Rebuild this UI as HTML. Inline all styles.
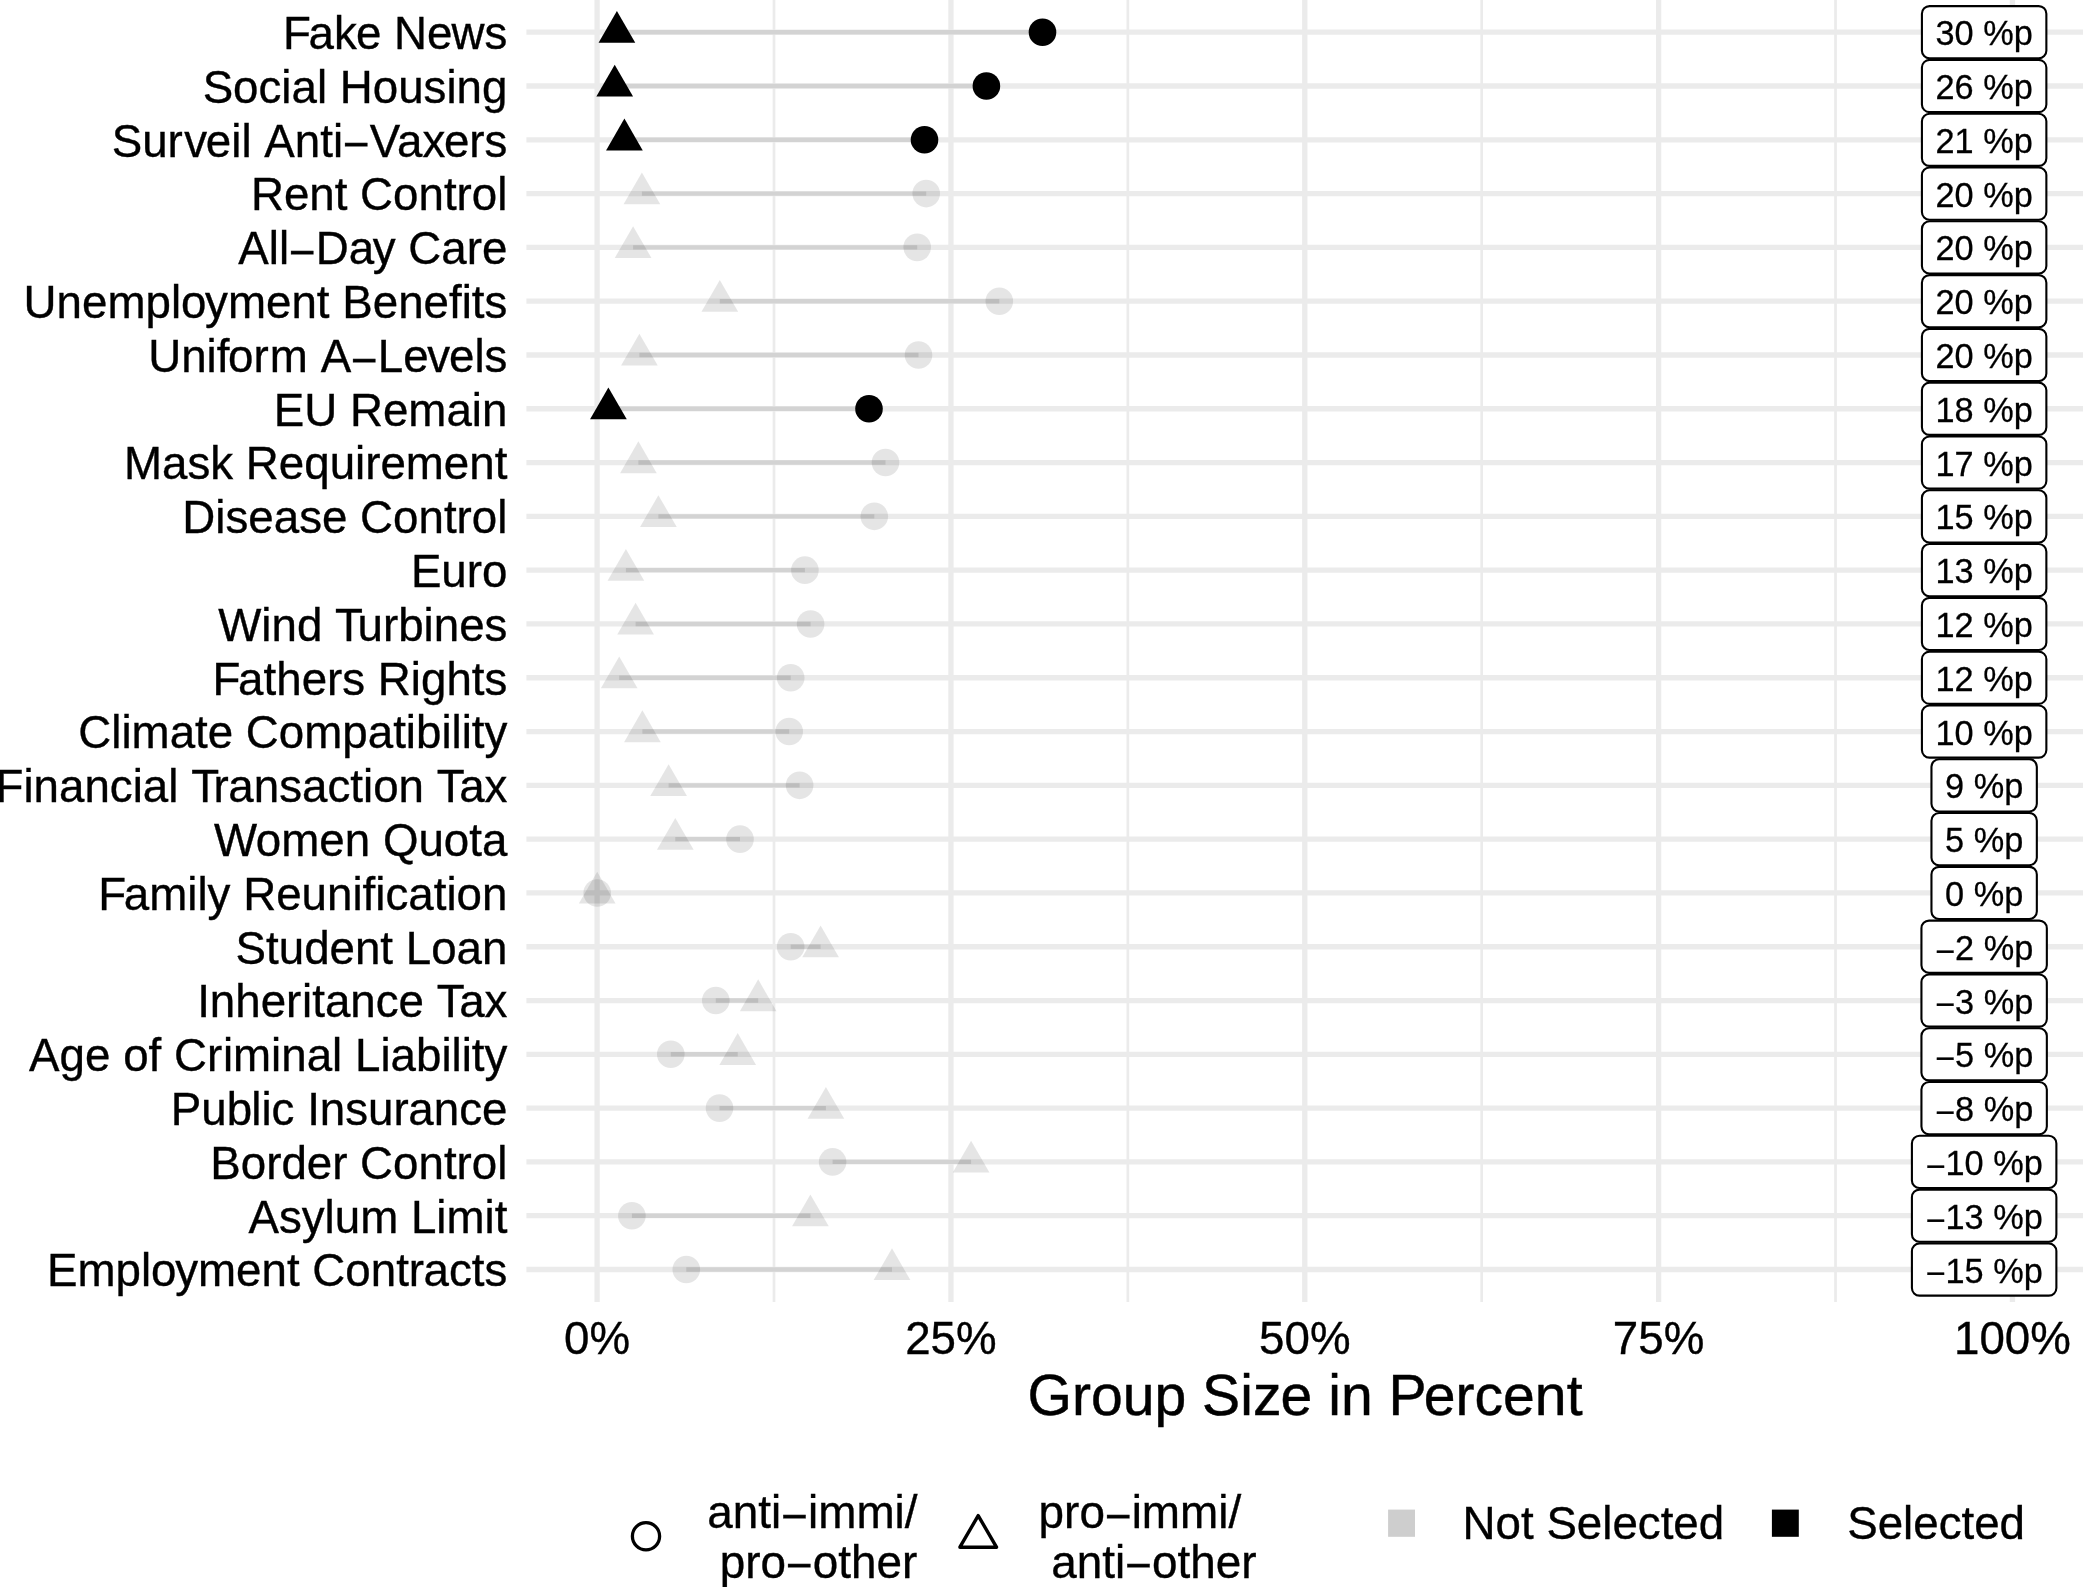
<!DOCTYPE html>
<html lang="en"><head><meta charset="utf-8"><title>Group Size in Percent</title>
<style>html,body{margin:0;padding:0;background:#fff}svg{display:block;will-change:transform}text{font-family:"Liberation Sans",sans-serif;fill:#000;font-kerning:none;stroke:#000;stroke-width:.008em}.ax{font-size:45.70px}.ti{font-size:57.10px}.lb{font-size:34.30px}.lg{font-size:45.85px}.g line{stroke:#ebebeb}.s line{stroke:#d3d3d3;stroke-width:4.40}.n{fill:#000;fill-opacity:.1}.k{fill:#000}.bx rect{fill:#fff;stroke:#000;stroke-width:2.1}</style></head><body>
<svg width="2083" height="1587" viewBox="0 0 2083 1587">
<rect width="2083" height="1587" fill="#fff"/>
<g class="g">
<line x1="774.02" x2="774.02" y1="0.0" y2="1302.0" stroke-width="2.7"/>
<line x1="1127.86" x2="1127.86" y1="0.0" y2="1302.0" stroke-width="2.7"/>
<line x1="1481.69" x2="1481.69" y1="0.0" y2="1302.0" stroke-width="2.7"/>
<line x1="1835.53" x2="1835.53" y1="0.0" y2="1302.0" stroke-width="2.7"/>
<line x1="597.10" x2="597.10" y1="0.0" y2="1302.0" stroke-width="5.3"/>
<line x1="950.94" x2="950.94" y1="0.0" y2="1302.0" stroke-width="5.3"/>
<line x1="1304.78" x2="1304.78" y1="0.0" y2="1302.0" stroke-width="5.3"/>
<line x1="1658.61" x2="1658.61" y1="0.0" y2="1302.0" stroke-width="5.3"/>
<line x1="2012.45" x2="2012.45" y1="0.0" y2="1302.0" stroke-width="5.3"/>
<line x1="526.4" x2="2083.0" y1="32.20" y2="32.20" stroke-width="5.3"/>
<line x1="526.4" x2="2083.0" y1="86.00" y2="86.00" stroke-width="5.3"/>
<line x1="526.4" x2="2083.0" y1="139.79" y2="139.79" stroke-width="5.3"/>
<line x1="526.4" x2="2083.0" y1="193.59" y2="193.59" stroke-width="5.3"/>
<line x1="526.4" x2="2083.0" y1="247.38" y2="247.38" stroke-width="5.3"/>
<line x1="526.4" x2="2083.0" y1="301.18" y2="301.18" stroke-width="5.3"/>
<line x1="526.4" x2="2083.0" y1="354.98" y2="354.98" stroke-width="5.3"/>
<line x1="526.4" x2="2083.0" y1="408.77" y2="408.77" stroke-width="5.3"/>
<line x1="526.4" x2="2083.0" y1="462.57" y2="462.57" stroke-width="5.3"/>
<line x1="526.4" x2="2083.0" y1="516.36" y2="516.36" stroke-width="5.3"/>
<line x1="526.4" x2="2083.0" y1="570.16" y2="570.16" stroke-width="5.3"/>
<line x1="526.4" x2="2083.0" y1="623.96" y2="623.96" stroke-width="5.3"/>
<line x1="526.4" x2="2083.0" y1="677.75" y2="677.75" stroke-width="5.3"/>
<line x1="526.4" x2="2083.0" y1="731.55" y2="731.55" stroke-width="5.3"/>
<line x1="526.4" x2="2083.0" y1="785.34" y2="785.34" stroke-width="5.3"/>
<line x1="526.4" x2="2083.0" y1="839.14" y2="839.14" stroke-width="5.3"/>
<line x1="526.4" x2="2083.0" y1="892.94" y2="892.94" stroke-width="5.3"/>
<line x1="526.4" x2="2083.0" y1="946.73" y2="946.73" stroke-width="5.3"/>
<line x1="526.4" x2="2083.0" y1="1000.53" y2="1000.53" stroke-width="5.3"/>
<line x1="526.4" x2="2083.0" y1="1054.32" y2="1054.32" stroke-width="5.3"/>
<line x1="526.4" x2="2083.0" y1="1108.12" y2="1108.12" stroke-width="5.3"/>
<line x1="526.4" x2="2083.0" y1="1161.92" y2="1161.92" stroke-width="5.3"/>
<line x1="526.4" x2="2083.0" y1="1215.71" y2="1215.71" stroke-width="5.3"/>
<line x1="526.4" x2="2083.0" y1="1269.51" y2="1269.51" stroke-width="5.3"/>
</g>
<g class="s">
<line x1="616.9" x2="1042.5" y1="32.20" y2="32.20"/>
<line x1="614.7" x2="986.4" y1="86.00" y2="86.00"/>
<line x1="624.4" x2="924.5" y1="139.79" y2="139.79"/>
<line x1="641.9" x2="926.2" y1="193.59" y2="193.59"/>
<line x1="633.1" x2="917.2" y1="247.38" y2="247.38"/>
<line x1="719.8" x2="999.3" y1="301.18" y2="301.18"/>
<line x1="639.4" x2="918.5" y1="354.98" y2="354.98"/>
<line x1="608.4" x2="869.0" y1="408.77" y2="408.77"/>
<line x1="638.4" x2="885.5" y1="462.57" y2="462.57"/>
<line x1="658.4" x2="874.3" y1="516.36" y2="516.36"/>
<line x1="625.9" x2="804.9" y1="570.16" y2="570.16"/>
<line x1="635.6" x2="810.6" y1="623.96" y2="623.96"/>
<line x1="619.2" x2="790.7" y1="677.75" y2="677.75"/>
<line x1="642.4" x2="789.2" y1="731.55" y2="731.55"/>
<line x1="668.6" x2="799.6" y1="785.34" y2="785.34"/>
<line x1="675.3" x2="740.0" y1="839.14" y2="839.14"/>
<line x1="820.6" x2="790.7" y1="946.73" y2="946.73"/>
<line x1="758.2" x2="715.8" y1="1000.53" y2="1000.53"/>
<line x1="737.7" x2="670.8" y1="1054.32" y2="1054.32"/>
<line x1="825.9" x2="719.5" y1="1108.12" y2="1108.12"/>
<line x1="971.1" x2="832.6" y1="1161.92" y2="1161.92"/>
<line x1="810.4" x2="631.9" y1="1215.71" y2="1215.71"/>
<line x1="892.0" x2="686.3" y1="1269.51" y2="1269.51"/>
</g>
<g>
<circle class="k" cx="1042.5" cy="32.20" r="13.8"/>
<path class="k" d="M616.9 11.00L635.26 42.80L598.54 42.80Z"/>
<circle class="k" cx="986.4" cy="86.00" r="13.8"/>
<path class="k" d="M614.7 64.80L633.06 96.60L596.34 96.60Z"/>
<circle class="k" cx="924.5" cy="139.79" r="13.8"/>
<path class="k" d="M624.4 118.59L642.76 150.39L606.04 150.39Z"/>
<circle class="n" cx="926.2" cy="193.59" r="13.8"/>
<path class="n" d="M641.9 172.39L660.26 204.19L623.54 204.19Z"/>
<circle class="n" cx="917.2" cy="247.38" r="13.8"/>
<path class="n" d="M633.1 226.18L651.46 257.98L614.74 257.98Z"/>
<circle class="n" cx="999.3" cy="301.18" r="13.8"/>
<path class="n" d="M719.8 279.98L738.16 311.78L701.44 311.78Z"/>
<circle class="n" cx="918.5" cy="354.98" r="13.8"/>
<path class="n" d="M639.4 333.78L657.76 365.58L621.04 365.58Z"/>
<circle class="k" cx="869.0" cy="408.77" r="13.8"/>
<path class="k" d="M608.4 387.57L626.76 419.37L590.04 419.37Z"/>
<circle class="n" cx="885.5" cy="462.57" r="13.8"/>
<path class="n" d="M638.4 441.37L656.76 473.17L620.04 473.17Z"/>
<circle class="n" cx="874.3" cy="516.36" r="13.8"/>
<path class="n" d="M658.4 495.16L676.76 526.96L640.04 526.96Z"/>
<circle class="n" cx="804.9" cy="570.16" r="13.8"/>
<path class="n" d="M625.9 548.96L644.26 580.76L607.54 580.76Z"/>
<circle class="n" cx="810.6" cy="623.96" r="13.8"/>
<path class="n" d="M635.6 602.76L653.96 634.56L617.24 634.56Z"/>
<circle class="n" cx="790.7" cy="677.75" r="13.8"/>
<path class="n" d="M619.2 656.55L637.56 688.35L600.84 688.35Z"/>
<circle class="n" cx="789.2" cy="731.55" r="13.8"/>
<path class="n" d="M642.4 710.35L660.76 742.15L624.04 742.15Z"/>
<circle class="n" cx="799.6" cy="785.34" r="13.8"/>
<path class="n" d="M668.6 764.14L686.96 795.94L650.24 795.94Z"/>
<circle class="n" cx="740.0" cy="839.14" r="13.8"/>
<path class="n" d="M675.3 817.94L693.66 849.74L656.94 849.74Z"/>
<circle class="n" cx="597.2" cy="892.94" r="13.8"/>
<path class="n" d="M597.2 871.74L615.56 903.54L578.84 903.54Z"/>
<circle class="n" cx="790.7" cy="946.73" r="13.8"/>
<path class="n" d="M820.6 925.53L838.96 957.33L802.24 957.33Z"/>
<circle class="n" cx="715.8" cy="1000.53" r="13.8"/>
<path class="n" d="M758.2 979.33L776.56 1011.13L739.84 1011.13Z"/>
<circle class="n" cx="670.8" cy="1054.32" r="13.8"/>
<path class="n" d="M737.7 1033.12L756.06 1064.92L719.34 1064.92Z"/>
<circle class="n" cx="719.5" cy="1108.12" r="13.8"/>
<path class="n" d="M825.9 1086.92L844.26 1118.72L807.54 1118.72Z"/>
<circle class="n" cx="832.6" cy="1161.92" r="13.8"/>
<path class="n" d="M971.1 1140.72L989.46 1172.52L952.74 1172.52Z"/>
<circle class="n" cx="631.9" cy="1215.71" r="13.8"/>
<path class="n" d="M810.4 1194.51L828.76 1226.31L792.04 1226.31Z"/>
<circle class="n" cx="686.3" cy="1269.51" r="13.8"/>
<path class="n" d="M892.0 1248.31L910.36 1280.11L873.64 1280.11Z"/>
</g>
<g class="bx">
<rect x="1921.92" y="6.10" width="124.44" height="52.2" rx="7.6" ry="7.6"/>
<text class="lb" x="1984.14" y="45.20" text-anchor="middle">30 %p</text>
<rect x="1921.92" y="59.90" width="124.44" height="52.2" rx="7.6" ry="7.6"/>
<text class="lb" x="1984.14" y="99.00" text-anchor="middle">26 %p</text>
<rect x="1921.92" y="113.69" width="124.44" height="52.2" rx="7.6" ry="7.6"/>
<text class="lb" x="1984.14" y="152.79" text-anchor="middle">21 %p</text>
<rect x="1921.92" y="167.49" width="124.44" height="52.2" rx="7.6" ry="7.6"/>
<text class="lb" x="1984.14" y="206.59" text-anchor="middle">20 %p</text>
<rect x="1921.92" y="221.28" width="124.44" height="52.2" rx="7.6" ry="7.6"/>
<text class="lb" x="1984.14" y="260.38" text-anchor="middle">20 %p</text>
<rect x="1921.92" y="275.08" width="124.44" height="52.2" rx="7.6" ry="7.6"/>
<text class="lb" x="1984.14" y="314.18" text-anchor="middle">20 %p</text>
<rect x="1921.92" y="328.88" width="124.44" height="52.2" rx="7.6" ry="7.6"/>
<text class="lb" x="1984.14" y="367.98" text-anchor="middle">20 %p</text>
<rect x="1921.92" y="382.67" width="124.44" height="52.2" rx="7.6" ry="7.6"/>
<text class="lb" x="1984.14" y="421.77" text-anchor="middle">18 %p</text>
<rect x="1921.92" y="436.47" width="124.44" height="52.2" rx="7.6" ry="7.6"/>
<text class="lb" x="1984.14" y="475.57" text-anchor="middle">17 %p</text>
<rect x="1921.92" y="490.26" width="124.44" height="52.2" rx="7.6" ry="7.6"/>
<text class="lb" x="1984.14" y="529.36" text-anchor="middle">15 %p</text>
<rect x="1921.92" y="544.06" width="124.44" height="52.2" rx="7.6" ry="7.6"/>
<text class="lb" x="1984.14" y="583.16" text-anchor="middle">13 %p</text>
<rect x="1921.92" y="597.86" width="124.44" height="52.2" rx="7.6" ry="7.6"/>
<text class="lb" x="1984.14" y="636.96" text-anchor="middle">12 %p</text>
<rect x="1921.92" y="651.65" width="124.44" height="52.2" rx="7.6" ry="7.6"/>
<text class="lb" x="1984.14" y="690.75" text-anchor="middle">12 %p</text>
<rect x="1921.92" y="705.45" width="124.44" height="52.2" rx="7.6" ry="7.6"/>
<text class="lb" x="1984.14" y="744.55" text-anchor="middle">10 %p</text>
<rect x="1931.46" y="759.24" width="105.37" height="52.2" rx="7.6" ry="7.6"/>
<text class="lb" x="1984.14" y="798.34" text-anchor="middle">9 %p</text>
<rect x="1931.46" y="813.04" width="105.37" height="52.2" rx="7.6" ry="7.6"/>
<text class="lb" x="1984.14" y="852.14" text-anchor="middle">5 %p</text>
<rect x="1931.46" y="866.84" width="105.37" height="52.2" rx="7.6" ry="7.6"/>
<text class="lb" x="1984.14" y="905.94" text-anchor="middle">0 %p</text>
<rect x="1921.44" y="920.63" width="125.40" height="52.2" rx="7.6" ry="7.6"/>
<text class="lb" x="1984.14" y="959.73" text-anchor="middle" dy="2.85 -2.85 0 0 0">−2 %p</text>
<rect x="1921.44" y="974.43" width="125.40" height="52.2" rx="7.6" ry="7.6"/>
<text class="lb" x="1984.14" y="1013.53" text-anchor="middle" dy="2.85 -2.85 0 0 0">−3 %p</text>
<rect x="1921.44" y="1028.22" width="125.40" height="52.2" rx="7.6" ry="7.6"/>
<text class="lb" x="1984.14" y="1067.32" text-anchor="middle" dy="2.85 -2.85 0 0 0">−5 %p</text>
<rect x="1921.44" y="1082.02" width="125.40" height="52.2" rx="7.6" ry="7.6"/>
<text class="lb" x="1984.14" y="1121.12" text-anchor="middle" dy="2.85 -2.85 0 0 0">−8 %p</text>
<rect x="1911.91" y="1135.82" width="144.47" height="52.2" rx="7.6" ry="7.6"/>
<text class="lb" x="1984.14" y="1174.92" text-anchor="middle" dy="2.85 -2.85 0 0 0 0">−10 %p</text>
<rect x="1911.91" y="1189.61" width="144.47" height="52.2" rx="7.6" ry="7.6"/>
<text class="lb" x="1984.14" y="1228.71" text-anchor="middle" dy="2.85 -2.85 0 0 0 0">−13 %p</text>
<rect x="1911.91" y="1243.41" width="144.47" height="52.2" rx="7.6" ry="7.6"/>
<text class="lb" x="1984.14" y="1282.51" text-anchor="middle" dy="2.85 -2.85 0 0 0 0">−15 %p</text>
</g>
<g class="ax" text-anchor="end">
<text x="507.4" y="49.10" dx="0 -2.29 0 -0.91 0 0 0 -0.91 0">Fake News</text>
<text x="507.4" y="102.90">Social Housing</text>
<text x="507.4" y="156.69" dx="0 0 0 1.37 -1.14 0 0 0 0 0 0 0 0 0 -3.2 0 -1.37 0 0" dy="0 0 0 0 0 0 0 0 0 0 0 0 3.79 -3.79 0 0 0 0 0">Surveil Anti−Vaxers</text>
<text x="507.4" y="210.49">Rent Control</text>
<text x="507.4" y="264.28" dx="0 0 0 0 0 0 -1.37 0 0 0 0 0" dy="0 0 0 3.79 -3.79 0 0 0 0 0 0 0">All−Day Care</text>
<text x="507.4" y="318.08" dx="0 0 0 0 0 0 0 -1.37 0 0 0 0 0 0 0 0 0 0 0 0 0">Unemployment Benefits</text>
<text x="507.4" y="371.88" dx="0 0 0 0 -1.37 0 1.14 0 0 0 0 0 -1.37 -1.14 0 0" dy="0 0 0 0 0 0 0 0 0 3.79 -3.79 0 0 0 0 0">Uniform A−Levels</text>
<text x="507.4" y="425.67">EU Remain</text>
<text x="507.4" y="479.47">Mask Requirement</text>
<text x="507.4" y="533.26">Disease Control</text>
<text x="507.4" y="587.06">Euro</text>
<text x="507.4" y="640.86" dx="0 0 0 0 0 0 -5.48 0 0 0 0 0 0">Wind Turbines</text>
<text x="507.4" y="694.65" dx="0 -2.29 0 0 0 0 0 0 0 0 0 0 0 0">Fathers Rights</text>
<text x="507.4" y="748.45">Climate Compatibility</text>
<text x="507.4" y="802.24" dx="0 0 0 0 0 0 0 0 0 0 0 -5.48 -0.46 0 0 0 0 0 0 0 0 0 0 -5.48 0">Financial Transaction Tax</text>
<text x="507.4" y="856.04" dx="0 -1.37 0 0 0 0 0 0 0 0 0">Women Quota</text>
<text x="507.4" y="909.84" dx="0 -2.29 0 0 0 0 0 0 0 0 0 0 0 0 0 0 0 0 0 0">Family Reunification</text>
<text x="507.4" y="963.63">Student Loan</text>
<text x="507.4" y="1017.43" dx="0 0 0 0 0 0.69 0 0 0 0 0 0 0 -5.48 0">Inheritance Tax</text>
<text x="507.4" y="1071.22" dx="0 0 0 0 0 0 0 0 0 0.69 0 0 0 0 0 0 0 0 0 0 0 0 0 0 0">Age of Criminal Liability</text>
<text x="507.4" y="1125.02" dx="0 0 0 -0.91 0 0 0 0 0 0 0 0 -0.46 0 0 0">Public Insurance</text>
<text x="507.4" y="1178.82">Border Control</text>
<text x="507.4" y="1232.61">Asylum Limit</text>
<text x="507.4" y="1286.41" dx="0 0 0 0 0 -1.37 0 0 0 0 0 0 0 0 0 0 -0.46 0 0 0">Employment Contracts</text>
</g>
<g class="ax" text-anchor="middle">
<text x="597.1" y="1354.1">0%</text>
<text x="950.9" y="1354.1">25%</text>
<text x="1304.8" y="1354.1">50%</text>
<text x="1658.6" y="1354.1">75%</text>
<text x="2012.4" y="1354.1">100%</text>
</g>
<text class="ti" x="1305" y="1414.9" text-anchor="middle" dx="0 0 0 0 0 0 0 0 0 -0.86 0 0 0 0 0 -2.85 0 0 0 0 0">Group Size in Percent</text>
<g class="lg">
<circle cx="646" cy="1536.3" r="13.6" fill="none" stroke="#000" stroke-width="3.3"/>
<text x="707.3" y="1528.1" dy="0 0 0 0 3.81 -3.81 0 0 0 0">anti−immi/</text>
<text x="719.8" y="1577.6" dy="0 0 0 3.81 -3.81 0 0 0 0">pro−other</text>
<text x="1038.6" y="1528.1" dy="0 0 0 3.81 -3.81 0 0 0 0">pro−immi/</text>
<text x="1051.3" y="1577.6" dy="0 0 0 0 3.81 -3.81 0 0 0 0">anti−other</text>
<text class="ax" x="1462.6" y="1539.3">Not Selected</text>
<text class="ax" x="1847.2" y="1539.3">Selected</text>
<path d="M978.2 1515.6L996.5 1547.2L959.9 1547.2Z" fill="none" stroke="#000" stroke-width="3.4" stroke-linejoin="round"/>
<rect x="1388.1" y="1509.6" width="26.9" height="27.2" fill="#cecece"/>
<rect x="1771.9" y="1509.6" width="26.9" height="27.2" fill="#000"/>
</g>
</svg></body></html>
